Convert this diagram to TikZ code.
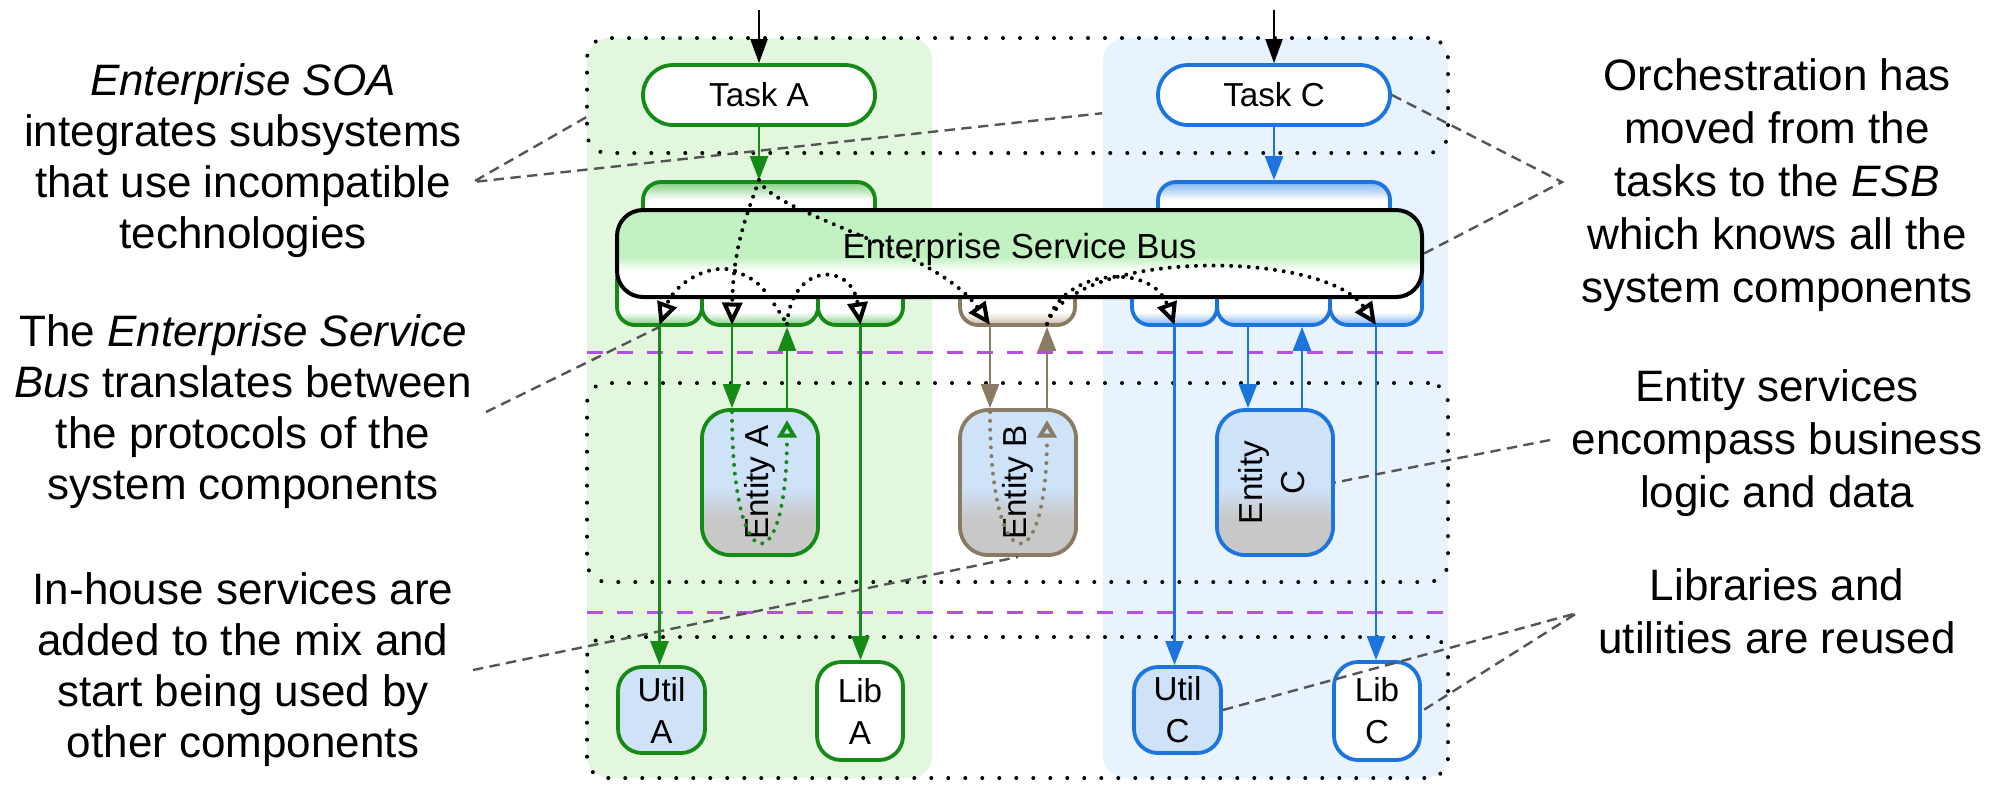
\documentclass[tikz,border=0pt]{standalone}
\usepackage{fontspec}
\setmainfont{Liberation Sans}
\usepackage{graphicx}
\usetikzlibrary{arrows.meta,calc}

\definecolor{gA}{RGB}{22,138,22}
\definecolor{bC}{RGB}{28,116,222}
\definecolor{brB}{RGB}{138,124,100}
\definecolor{bgGreen}{RGB}{226,247,222}
\definecolor{bgBlue}{RGB}{233,243,254}
\definecolor{esbG}{RGB}{194,242,194}
\definecolor{fadeG}{RGB}{130,205,130}
\definecolor{fadeB}{RGB}{125,178,240}
\definecolor{fadeBr}{RGB}{198,184,160}
\definecolor{entBlue}{RGB}{206,226,248}
\definecolor{entGray}{RGB}{200,200,200}
\definecolor{utilBlue}{RGB}{208,226,248}
\definecolor{sepViolet}{RGB}{180,80,230}
\definecolor{calloutGray}{RGB}{85,85,85}

% fills: bus, entity services, interface ports above and below the bus
\pgfdeclareverticalshading{esbfill}{100bp}{color(0bp)=(white); color(40bp)=(white); color(48bp)=(esbG); color(100bp)=(esbG)}
\pgfdeclareverticalshading{entfill}{100bp}{color(0bp)=(entGray); color(38bp)=(entGray); color(48bp)=(entBlue); color(100bp)=(entBlue)}
\pgfdeclareverticalshading{topG}{100bp}{color(0bp)=(white); color(62bp)=(white); color(75bp)=(fadeG); color(100bp)=(fadeG)}
\pgfdeclareverticalshading{topB}{100bp}{color(0bp)=(white); color(62bp)=(white); color(75bp)=(fadeB); color(100bp)=(fadeB)}
\pgfdeclareverticalshading{botG}{100bp}{color(0bp)=(fadeG); color(25bp)=(fadeG); color(35bp)=(white); color(100bp)=(white)}
\pgfdeclareverticalshading{botB}{100bp}{color(0bp)=(fadeB); color(25bp)=(fadeB); color(35bp)=(white); color(100bp)=(white)}
\pgfdeclareverticalshading{botBr}{100bp}{color(0bp)=(fadeBr); color(25bp)=(fadeBr); color(35bp)=(white); color(100bp)=(white)}

\begin{document}
\begin{tikzpicture}[x={(0.25pt,0)}, y={(0,-0.25pt)},
  font=\fontsize{8.3pt}{10.5pt}\selectfont,
  bgbox/.style={rounded corners=5.5pt, inner sep=0pt, minimum width=86.25pt, minimum height=185pt},
  tier/.style={draw, line width=1pt, dash pattern=on 0pt off 4.25pt, line cap=round,
    rounded corners=5pt, inner sep=0pt, minimum width=215.25pt},
  taskbox/.style={draw=#1, fill=white, line width=0.95pt, rounded corners=7.5pt,
    inner sep=0pt, minimum width=58pt, minimum height=15pt},
  port/.style 2 args={draw=#1, shading=#2, line width=0.95pt, rounded corners=4.5pt,
    inner sep=0pt, minimum height=15.75pt},
  entity/.style={draw=#1, shading=entfill, line width=0.95pt, rounded corners=7pt,
    inner sep=0pt, minimum width=29pt, minimum height=36.25pt},
  utilbox/.style={draw=#1, fill=utilBlue, line width=0.95pt, rounded corners=6pt,
    inner sep=0pt, minimum width=21.75pt, minimum height=21.5pt, align=center},
  libbox/.style={draw=#1, fill=white, line width=0.95pt, rounded corners=6pt,
    inner sep=0pt, minimum width=21.5pt, minimum height=24.5pt, align=center},
  wire/.style={draw=#1, line width=0.6pt, -{Triangle[length=6pt, width=4.5pt]}},
  feed/.style={draw=black, line width=0.55pt, -{Triangle[length=6pt, width=4.25pt]}},
  route/.style={draw=black, line width=1pt, dash pattern=on 0pt off 2.2pt, line cap=round,
    -{Triangle[open, length=5.6pt, width=5pt, line width=1pt]}},
  routeplain/.style={draw=black, line width=1pt, dash pattern=on 0pt off 2.2pt, line cap=round},
  innerroute/.style={draw=#1, line width=1pt, dash pattern=on 0pt off 2.2pt, line cap=round,
    -{Triangle[open, length=4.4pt, width=4.8pt, line width=1pt]}},
  callout/.style={draw=calloutGray, line width=0.6pt, dash pattern=on 2.6pt off 1.6pt},
  sepline/.style={draw=sepViolet, line width=0.75pt, dash pattern=on 4pt off 3.5pt},
  remark/.style={font=\fontsize{11pt}{13.25pt}\selectfont, align=center, inner sep=0pt, anchor=base},
  leftremark/.style={remark, font=\fontsize{11pt}{12.75pt}\selectfont}
]
\useasboundingbox (0,0) rectangle (1997,786);

% subsystem backgrounds
\node[bgbox, fill=bgGreen] (sysA) at (759.5,408) {};
\node[bgbox, fill=bgBlue] (sysC) at (1275.5,408) {};

% tiers
\node[tier, minimum height=28.75pt] (taskTier) at (1017.5,95.5) {};
\node[tier, minimum height=49.75pt] (entityTier) at (1017.5,482.5) {};
\node[tier, minimum height=35.25pt] (libTier) at (1017.5,707.5) {};
\draw[sepline] (587,352) -- (1448,352);
\draw[sepline] (587,612) -- (1448,612);

% tasks
\node[taskbox=gA] (taskA) at (759,95) {Task A};
\node[taskbox=bC] (taskC) at (1274,95) {Task C};

% ports above and below the bus
\node[port={gA}{topG}, minimum width=58pt, minimum height=17pt] (ifA) at (759,216) {};
\node[port={bC}{topB}, minimum width=58pt, minimum height=17pt] (ifC) at (1274,216) {};
\node[port={gA}{botG}, minimum width=21.25pt] (adA1) at (659.5,293.5) {};
\node[port={gA}{botG}, minimum width=29pt] (adA2) at (760,293.5) {};
\node[port={gA}{botG}, minimum width=21.25pt] (adA3) at (860.5,293.5) {};
\node[port={brB}{botBr}, minimum width=28.75pt] (adB) at (1017.5,293.5) {};
\node[port={bC}{botB}, minimum width=21.25pt] (adC1) at (1174.5,293.5) {};
\node[port={bC}{botB}, minimum width=28.25pt] (adC2) at (1273.5,293.5) {};
\node[port={bC}{botB}, minimum width=23pt] (adC3) at (1376,293.5) {};

% the bus
\node[draw, line width=1pt, rounded corners=6.5pt, shading=esbfill, inner sep=0pt,
  minimum width=201.25pt, minimum height=21.75pt] (esb) at (1019.5,253.5) {};
\node[anchor=base, inner sep=0pt, font=\fontsize{8.7pt}{10.5pt}\selectfont] (esbLabel) at (1019.5,258) {Enterprise Service Bus};

% entity services
\node[entity=gA] (entA) at (760,482.5) {\rotatebox{90}{Entity A}};
\node[entity=brB] (entB) at (1018,482.5) {\rotatebox{90}{Entity B}};
\node[entity=bC] (entC) at (1275,482.5) {\rotatebox{90}{\begin{tabular}{@{}c@{}}Entity\\C\end{tabular}}};

% utilities and libraries
\node[utilbox=gA] (utilA) at (661.5,710) {Util\\A};
\node[libbox=gA] (libA) at (860,711) {Lib\\A};
\node[utilbox=bC] (utilC) at (1177.5,710) {Util\\C};
\node[libbox=bC] (libC) at (1377,711) {Lib\\C};

% incoming requests
\coordinate (inA) at (759,10);
\coordinate (inC) at (1274,10);
\draw[feed] (inA) -- (taskA);
\draw[feed] (inC) -- (taskC);
\draw[wire=gA] (taskA) -- (ifA);
\draw[wire=bC] (taskC) -- (ifC);

% subsystem A wiring
\coordinate (dA) at ($(adA2.south)+(-28,0)$);
\coordinate (uA) at ($(entA.north)+(27,0)$);
\draw[wire=gA] (adA1.south) -- (adA1.south |- utilA.north);
\draw[wire=gA] (dA) -- (dA |- entA.north);
\draw[wire=gA] (uA) -- (uA |- adA2.south);
\draw[wire=gA] (adA3.south) -- (adA3.south |- libA.north);

% entity B wiring
\coordinate (dB) at ($(adB.south)+(-27.5,0)$);
\coordinate (uB) at ($(entB.north)+(29,0)$);
\draw[wire=brB] (dB) -- (dB |- entB.north);
\draw[wire=brB] (uB) -- (uB |- adB.south);

% subsystem C wiring
\coordinate (dC) at ($(adC2.south)+(-25.5,0)$);
\coordinate (uC) at ($(entC.north)+(27,0)$);
\draw[wire=bC] (adC1.south) -- (adC1.south |- utilC.north);
\draw[wire=bC] (dC) -- (dC |- entC.north);
\draw[wire=bC] (uC) -- (uC |- adC2.south);
\draw[wire=bC] (adC3.south) -- (adC3.south |- libC.north);

% message routes through the bus
\coordinate (jA) at (735,271);
\coordinate (vA) at ($(uA |- adA2.south)+(0,-3)$);
\coordinate (vB) at ($(uB |- adB.south)+(0,-3)$);
\draw[route] (ifA.north) .. controls (748,212) and (733,245) .. ($(dA)+(0,-2)$);
\draw[route] (ifA.north) .. controls (775,215) and (935,248) .. ($(dB)+(0,-2)$);
\draw[route] (jA) .. controls (712,262) and (675,282) .. ($(adA1.south)+(0,-2)$);
\draw[routeplain] (jA) .. controls (760,282) .. (vA);
\draw[route] (vA) .. controls (792,262) and (852,262) .. ($(adA3.south)+(0,-2)$);
\draw[route] (vB) .. controls (1062,268) and (1152,262) .. ($(adC1.south)+(0,-2)$);
\draw[route] (vB) .. controls (1075,248) and (1325,250) .. ($(adC3.south)+(0,-2)$);

% calls inside the entity services
\draw[innerroute=gA] ($(dA |- entA.north)+(0,4)$) .. controls (732,583) and (787,583) .. ($(uA)+(0,12)$);
\draw[innerroute=brB] ($(dB |- entB.north)+(0,4)$) .. controls (990,583) and (1047,583) .. ($(uB)+(0,12)$);

% remarks (anchored at the baseline of their last line)
\node[leftremark] (noteL1) at (243,248) {\textit{Enterprise SOA}\\integrates subsystems\\that use incompatible\\technologies};
\node[leftremark] (noteL2) at (243,499) {The \textit{Enterprise Service}\\\textit{Bus} translates between\\the protocols of the\\system components};
\node[leftremark] (noteL3) at (243,757) {In-house services are\\added to the mix and\\start being used by\\other components};
\node[remark] (noteR1) at (1777,302) {Orchestration has\\moved from the\\tasks to the \textit{ESB}\\which knows all the\\system components};
\node[remark] (noteR2) at (1777,507) {Entity services\\encompass business\\logic and data};
\node[remark] (noteR3) at (1777,653) {Libraries and\\utilities are reused};

% callout leaders
\coordinate (nL1) at (473,182);
\coordinate (nL2) at (486,412);
\coordinate (nL3) at (473,670);
\coordinate (nR1) at (1562,182);
\coordinate (nR2) at (1550,440);
\coordinate (nR3) at (1577,613);
\draw[callout] ($(sysA.north west)+(0,80)$) -- (nL1) -- ($(sysC.north west)+(0,76)$);
\draw[callout] (nL2) -- (adA1.south);
\draw[callout] (nL3) -- (entB.south);
\draw[callout] (taskC.east) -- (nR1) -- (esb.east);
\draw[callout] (nR2) -- (entC.east);
\draw[callout] (utilC.east) -- (nR3) -- (libC.east);
\end{tikzpicture}
\end{document}
